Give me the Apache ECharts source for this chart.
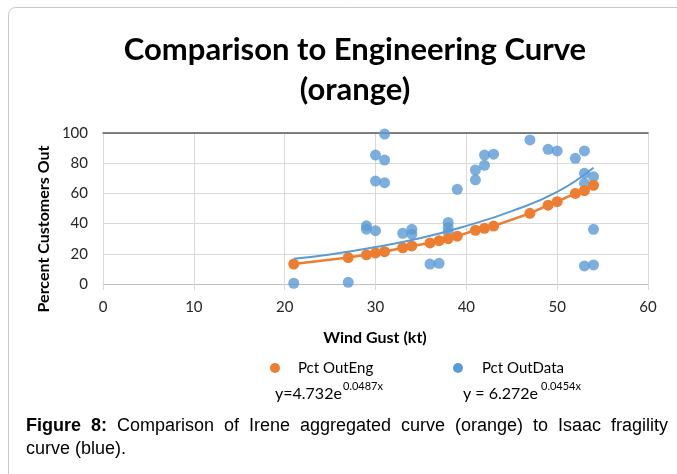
<!DOCTYPE html>
<html>
<head>
<meta charset="utf-8">
<script src="https://cdn.jsdelivr.net/npm/echarts@6/dist/echarts.min.js"></script>
<style>
  html, body { margin: 0; padding: 0; background: #fff; }
  #chart { width: 677px; height: 474px; }
</style>
</head>
<body>
<div id="chart"></div>
<script>
// x ticks / y ticks
var xTicks = [0, 10, 20, 30, 40, 50, 60];
var yTicks = [0, 20, 40, 60, 80, 100];

// Pct OutEng (orange)
var engWind = [21, 27, 29, 30, 31, 33, 34, 36, 37, 38, 39, 41, 42, 43, 47, 49, 50, 52, 53, 54];
var engPct  = [13.2, 17.5, 19.3, 20.6, 21.4, 24.0, 25.2, 27.2, 28.7, 30.0, 31.7, 35.6, 36.9, 38.4, 46.8, 52.2, 54.5, 60.0, 61.8, 65.4];

// Pct OutData (blue)
var dataWind = [21, 27, 29, 29, 30, 30, 30, 31, 31, 31, 33, 34, 34, 36, 37, 38, 38, 38, 39, 41, 41, 42, 42, 43, 47, 49, 50, 52, 53, 53, 53, 53, 54, 54, 54];
var dataPct  = [0.5, 1.1, 38.5, 36.3, 35.3, 68.2, 85.4, 99.3, 82.1, 67.1, 33.6, 36.2, 33.0, 13.2, 13.7, 40.8, 37.5, 34.2, 62.7, 69.0, 75.5, 78.6, 85.4, 86.0, 95.4, 89.2, 88.1, 83.2, 88.1, 73.3, 66.7, 12.0, 71.1, 36.2, 12.6];

// blue trendline
var trendWind = [21, 25, 30, 35, 40, 45, 50, 54];
var trendPct  = [16.8, 19.6, 24.5, 30.5, 38.5, 48.3, 61.0, 77.0];

var seriesNames = ['Pct OutEng', 'Pct OutData'];
var equations = [['y=4.732e', '0.0487x'], ['y = 6.272e', '0.0454x']];
var captionLine1 = ['Figure', '8:', 'Comparison', 'of', 'Irene', 'aggregated', 'curve', '(orange)', 'to', 'Isaac', 'fragility'];
var captionLine2 = 'curve (blue).';

var ORANGE = '#ED7D31';
var BLUE = '#5B9BD5';
var FONT = 'Lato, "Open Sans", sans-serif';
var CAPFONT = '"Liberation Sans", Arial, sans-serif';

function zip(a, b) {
    var out = [];
    for (var i = 0; i < a.length; i++) out.push([a[i], b[i]]);
    return out;
}

// justify caption line 1 between x=26 and x=668
function captionGraphics() {
    var ctx = document.createElement('canvas').getContext('2d');
    var widths = [], total = 0;
    for (var i = 0; i < captionLine1.length; i++) {
        ctx.font = (i < 2 ? 'bold ' : '') + '18px ' + CAPFONT;
        var w = ctx.measureText(captionLine1[i]).width;
        widths.push(w);
        total += w;
    }
    var x0 = 26, x1 = 668;
    var gap = (x1 - x0 - total) / (captionLine1.length - 1);
    var els = [], x = x0;
    for (var i = 0; i < captionLine1.length; i++) {
        els.push({
            type: 'text', left: x, top: 417,
            style: { text: captionLine1[i], font: (i < 2 ? 'bold ' : '') + '18px ' + CAPFONT, fill: '#000' }
        });
        x += widths[i] + gap;
    }
    els.push({
        type: 'text', left: x0, top: 440,
        style: { text: captionLine2, font: '18px ' + CAPFONT, fill: '#000' }
    });
    return els;
}

var chart = echarts.init(document.getElementById('chart'));

var graphics = [
    // figure frame
    { type: 'rect', shape: { x: 8.5, y: 7.5, width: 700, height: 480, r: 7 }, style: { fill: 'none', stroke: '#c8c8c8', lineWidth: 1 }, silent: true },
    // y axis title
    { type: 'text', x: 44, y: 229, rotation: Math.PI / 2,
      style: { text: 'Percent Customers Out', font: 'bold 16px ' + FONT, fill: '#000', align: 'center', verticalAlign: 'middle' } },
    // x axis title
    { type: 'text', x: 375, y: 338,
      style: { text: 'Wind Gust (kt)', font: 'bold 16px ' + FONT, fill: '#000', align: 'center', verticalAlign: 'middle' } },
    // legend
    { type: 'circle', shape: { cx: 275, cy: 368, r: 5 }, style: { fill: ORANGE } },
    { type: 'text', x: 298, y: 368, style: { text: seriesNames[0], font: '15px ' + FONT, fill: '#000', verticalAlign: 'middle' } },
    { type: 'circle', shape: { cx: 458, cy: 368, r: 5 }, style: { fill: BLUE } },
    { type: 'text', x: 482, y: 368, style: { text: seriesNames[1], font: '15px ' + FONT, fill: '#000', verticalAlign: 'middle' } },
    // trendline equations
    { type: 'text', x: 275, y: 394, style: { text: equations[0][0], font: '16px ' + FONT, fill: '#000', verticalAlign: 'middle' } },
    { type: 'text', x: 343, y: 386, style: { text: equations[0][1], font: '11px ' + FONT, fill: '#000', verticalAlign: 'middle' } },
    { type: 'text', x: 463, y: 394, style: { text: equations[1][0], font: '16px ' + FONT, fill: '#000', verticalAlign: 'middle' } },
    { type: 'text', x: 541, y: 386, style: { text: equations[1][1], font: '11px ' + FONT, fill: '#000', verticalAlign: 'middle' } }
].concat(captionGraphics());

var option = {
    backgroundColor: '#fff',
    animation: false,
    title: {
        text: 'Comparison to Engineering Curve\n(orange)',
        left: 350,
        top: 25,
        textAlign: 'center',
        textStyle: { fontFamily: FONT, fontWeight: 'bold', fontSize: 31, lineHeight: 40, color: '#000' }
    },
    grid: { left: 103, right: 29, top: 133, bottom: 190, containLabel: false },
    xAxis: [
        {
            type: 'value', min: xTicks[0], max: xTicks[xTicks.length - 1], interval: 10,
            axisLine: { show: true, lineStyle: { color: '#bfbfbf', width: 1 } },
            axisTick: { show: true, length: 6, lineStyle: { color: '#d9d9d9' } },
            axisLabel: { margin: 16, fontFamily: FONT, fontSize: 15, color: '#262626' },
            splitLine: { show: true, lineStyle: { color: '#d9d9d9', width: 1 } }
        },
        {
            // dark top edge of plot area
            type: 'value', position: 'top', min: 0, max: 60,
            axisLine: { show: true, lineStyle: { color: '#595959', width: 1.5 } },
            axisTick: { show: false }, axisLabel: { show: false }, splitLine: { show: false }
        }
    ],
    yAxis: {
        type: 'value', min: yTicks[0], max: yTicks[yTicks.length - 1], interval: 20,
        axisLine: { show: false },
        axisTick: { show: false },
        axisLabel: { margin: 15, fontFamily: FONT, fontSize: 15, color: '#262626' },
        splitLine: { show: true, lineStyle: { color: '#d9d9d9', width: 1 } }
    },
    graphic: graphics,
    series: [
        {
            name: seriesNames[1], type: 'scatter', data: zip(dataWind, dataPct),
            symbol: 'circle', symbolSize: 11, itemStyle: { color: BLUE }, z: 2
        },
        {
            name: seriesNames[0], type: 'line', data: zip(engWind, engPct),
            symbol: 'circle', symbolSize: 11, showSymbol: true,
            itemStyle: { color: ORANGE }, lineStyle: { color: ORANGE, width: 2.5 }, z: 3
        },
        {
            name: 'Expon. (Pct OutData)', type: 'line', data: zip(trendWind, trendPct),
            smooth: true, showSymbol: false, symbol: 'none',
            lineStyle: { color: BLUE, width: 2 }, z: 4
        }
    ]
};

chart.setOption(option);
</script>
</body>
</html>
